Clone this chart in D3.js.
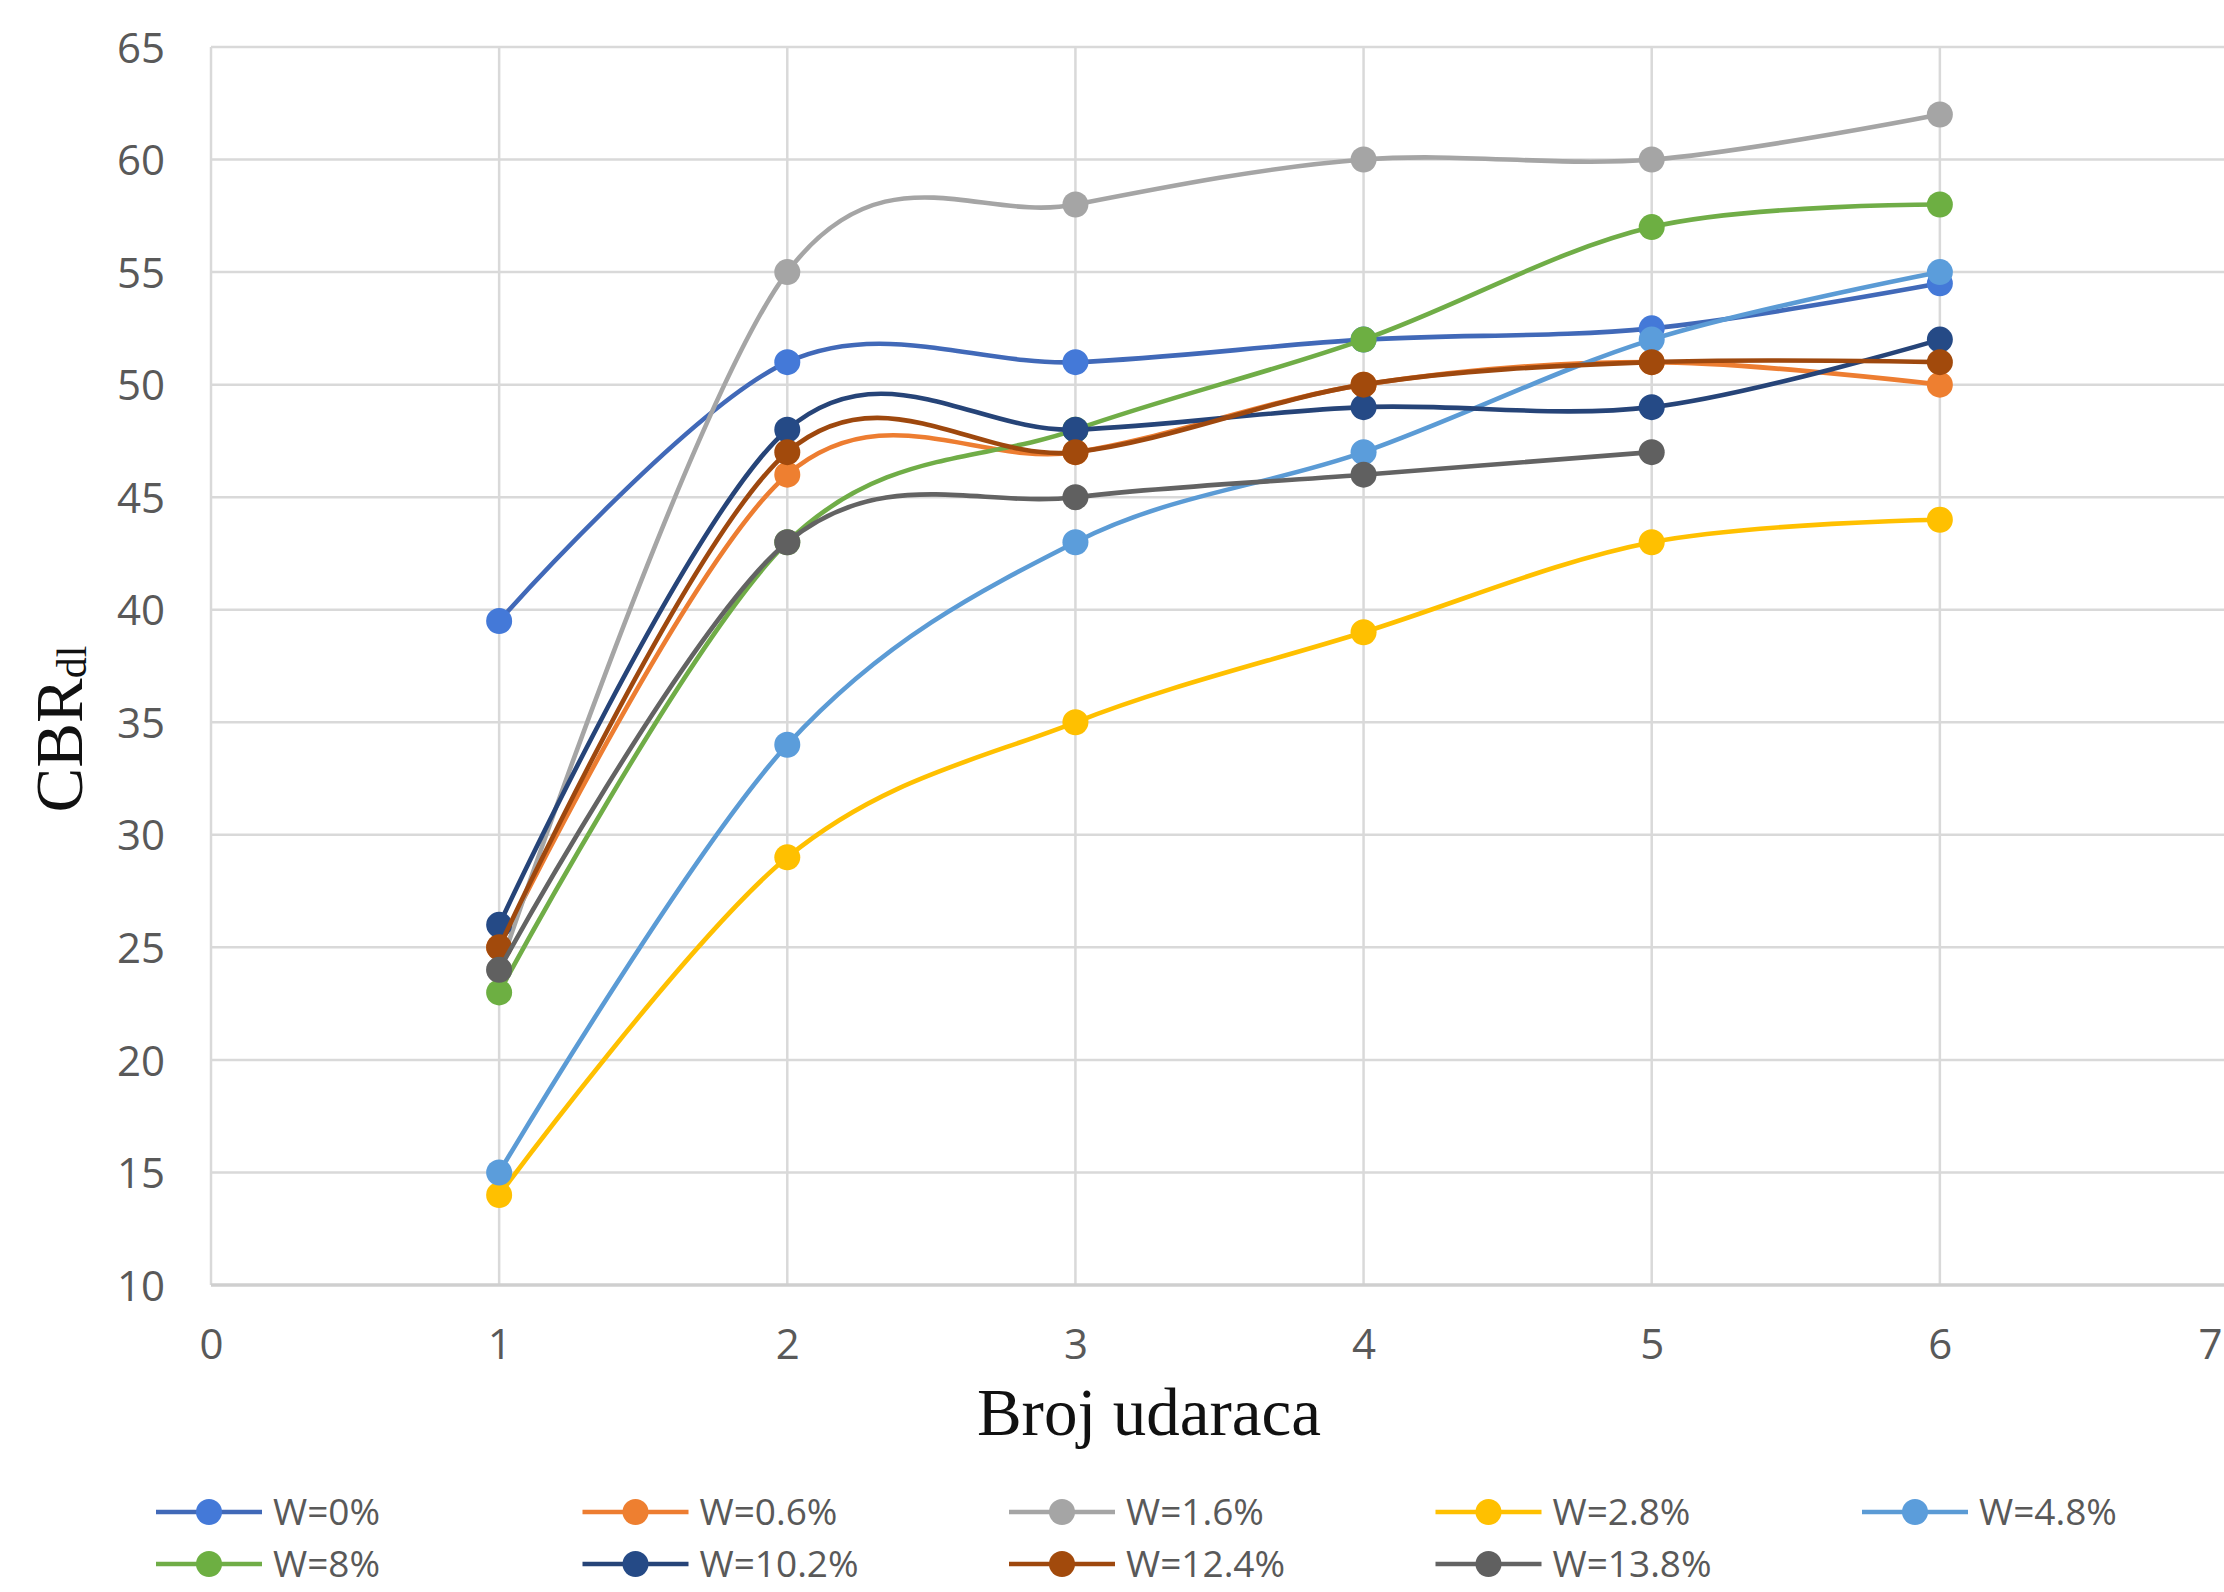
<!DOCTYPE html>
<html>
<head>
<meta charset="utf-8">
<script src="https://cdn.jsdelivr.net/npm/d3@7"></script>
<style>
  html, body { margin: 0; padding: 0; background: #ffffff; }
  svg { display: block; }
</style>
</head>
<body>
<svg id="chart" width="2224" height="1592"></svg>
<script>
// Number of blows on the x axis
const steps = [1, 2, 3, 4, 5, 6];
const xTicks = [0, 1, 2, 3, 4, 5, 6, 7];
const yTicks = [10, 15, 20, 25, 30, 35, 40, 45, 50, 55, 60, 65];

// Series names (moisture content)
const seriesNames = ["W=0%", "W=0.6%", "W=1.6%", "W=2.8%", "W=4.8%", "W=8%", "W=10.2%", "W=12.4%", "W=13.8%"];

// CBR values per series
const w0   = [39.5, 51, 51, 52, 52.5, 54.5];
const w06  = [25, 46, 47, 50, 51, 50];
const w16  = [24, 55, 58, 60, 60, 62];
const w28  = [14, 29, 35, 39, 43, 44];
const w48  = [15, 34, 43, 47, 52, 55];
const w8   = [23, 43, 48, 52, 57, 58];
const w102 = [26, 48, 48, 49, 49, 52];
const w124 = [25, 47, 47, 50, 51, 51];
const w138 = [24, 43, 45, 46, 47];

const seriesValues = [w0, w06, w16, w28, w48, w8, w102, w124, w138];
const lineColors   = ["#4169B8", "#ED7D31", "#A5A5A5", "#FFC000", "#5B9BD5", "#70AD47", "#264478", "#9E480E", "#636363"];
const markerColors = ["#4479D8", "#EE7F30", "#A5A5A5", "#FFC000", "#5B9DDB", "#6DAF42", "#254A86", "#A24A0C", "#606060"];

const series = seriesNames.map((name, i) => ({
  name,
  line: lineColors[i],
  marker: markerColors[i],
  points: seriesValues[i].map((v, j) => ({ x: steps[j], y: v }))
}));

const svg = d3.select("#chart");

const x = d3.scaleLinear().domain([0, 7]).range([211, 2228]);
const y = d3.scaleLinear().domain([10, 65]).range([1285, 47]);

const tickFont = "'Open Sans', 'DejaVu Sans', sans-serif";
const titleFont = "'Liberation Serif', 'DejaVu Serif', serif";
const tickColor = "#595959";
const gridColor = "#d9d9d9";

// Gridlines
const grid = svg.append("g");
grid.selectAll("line.h").data(yTicks.filter(t => t !== 10)).join("line")
  .attr("x1", x(0)).attr("x2", x(7))
  .attr("y1", d => y(d)).attr("y2", d => y(d))
  .attr("stroke", gridColor).attr("stroke-width", 2.5);
grid.selectAll("line.v").data(xTicks).join("line")
  .attr("x1", d => x(d)).attr("x2", d => x(d))
  .attr("y1", y(65)).attr("y2", y(10))
  .attr("stroke", gridColor).attr("stroke-width", 2.5);

// Horizontal axis line
svg.append("line")
  .attr("x1", x(0)).attr("x2", x(7))
  .attr("y1", y(10)).attr("y2", y(10))
  .attr("stroke", "#cfcfcf").attr("stroke-width", 3.5);

// Y axis tick labels
const yAxis = d3.axisLeft(y).tickValues(yTicks).tickSize(0).tickPadding(0);
const yg = svg.append("g").attr("transform", `translate(${x(0) - 46},0)`).call(yAxis);
yg.select(".domain").remove();
yg.selectAll("text")
  .attr("font-family", tickFont).attr("font-size", 42).attr("fill", tickColor)
  .attr("dy", "0.36em");

// X axis tick labels; the last one sits at the right edge of the canvas
const xAxis = d3.axisBottom(x).tickValues(xTicks).tickSize(0).tickPadding(0).tickFormat(d3.format("d"));
const xg = svg.append("g").attr("transform", `translate(0,${y(10)})`).call(xAxis);
xg.select(".domain").remove();
xg.selectAll("text")
  .attr("font-family", tickFont).attr("font-size", 42).attr("fill", tickColor)
  .attr("y", 74).attr("dy", 0);
xg.selectAll(".tick").filter(d => d === 7).select("text")
  .attr("text-anchor", "end").attr("x", 2222 - x(7));

// Axis titles
svg.append("text")
  .attr("x", 1149).attr("y", 1435)
  .attr("text-anchor", "middle")
  .attr("font-family", titleFont).attr("font-size", 67).attr("fill", "#111")
  .text("Broj udaraca");

const yTitle = svg.append("text")
  .attr("transform", "translate(82,729) rotate(-90)")
  .attr("text-anchor", "middle")
  .attr("font-family", titleFont).attr("font-size", 67).attr("fill", "#111");
yTitle.append("tspan").text("CBR");
yTitle.append("tspan").attr("font-size", 42).attr("dy", 4).text("dl");

// Smoothed series lines
const line = d3.line()
  .x(d => x(d.x)).y(d => y(d.y))
  .curve(d3.curveCardinal.tension(0));

const plot = svg.append("g");
series.forEach(s => {
  const g = plot.append("g");
  g.append("path")
    .datum(s.points)
    .attr("d", line)
    .attr("fill", "none")
    .attr("stroke", s.line)
    .attr("stroke-width", 4.6)
    .attr("stroke-linejoin", "round");
  g.selectAll("circle").data(s.points).join("circle")
    .attr("cx", d => x(d.x)).attr("cy", d => y(d.y))
    .attr("r", 13)
    .attr("fill", s.marker);
});

// Legend
const legend = svg.append("g");
const colX = i => 156 + i * 426.5;
const rowY = [1512, 1564];
series.forEach((s, i) => {
  const col = i % 5, row = Math.floor(i / 5);
  const g = legend.append("g").attr("transform", `translate(${colX(col)},${rowY[row]})`);
  g.append("line").attr("x1", 0).attr("x2", 106).attr("y1", 0).attr("y2", 0)
    .attr("stroke", s.line).attr("stroke-width", 4.6);
  g.append("circle").attr("cx", 53).attr("cy", 0).attr("r", 13).attr("fill", s.marker);
  g.append("text").attr("x", 117).attr("y", 0).attr("dy", "0.36em")
    .attr("font-family", tickFont).attr("font-size", 37).attr("fill", tickColor)
    .text(s.name);
});
</script>
</body>
</html>
